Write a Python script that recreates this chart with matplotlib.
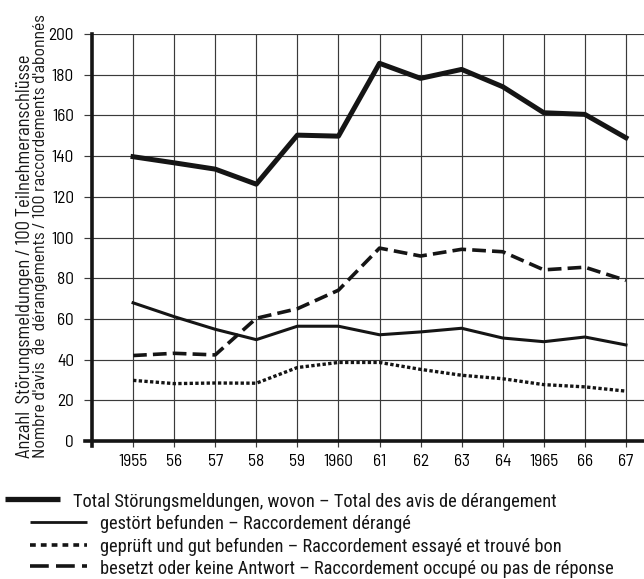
import matplotlib
matplotlib.use("Agg")
import matplotlib.pyplot as plt
from matplotlib.lines import Line2D

LEG_FONT = ["Roboto Condensed", "DejaVu Sans"]
AX_FONT = ["Barlow Semi Condensed", "Roboto Condensed", "DejaVu Sans"]
plt.rcParams['font.family'] = AX_FONT

years = [1955, 1956, 1957, 1958, 1959, 1960, 1961, 1962, 1963, 1964, 1965, 1966, 1967]
tick_labels = ["1955", "56", "57", "58", "59", "1960", "61", "62", "63", "64", "1965", "66", "67"]
total = [139.7, 136.7, 133.6, 126.2, 150.3, 149.8, 185.6, 178.2, 182.6, 174.1, 161.3, 160.5, 149.0]
gestoert = [67.9, 61.1, 54.9, 49.8, 56.4, 56.4, 52.2, 53.6, 55.4, 50.6, 48.8, 51.1, 47.2]
geprueft = [29.8, 28.2, 28.5, 28.4, 36.1, 38.6, 38.6, 35.2, 32.3, 30.6, 27.7, 26.6, 24.5]
besetzt = [42.0, 43.1, 42.3, 60.3, 65.0, 74.1, 94.8, 90.9, 94.2, 93.0, 84.1, 85.4, 78.9]

ylabel_de = "Anzahl  Störungsmeldungen / 100 Teilnehmeranschlüsse"
ylabel_fr = "Nombre d'avis  de  dérangements / 100 raccordements d'abonnés"
labels = [
    "Total Störungsmeldungen, wovon \u2013 Total des avis de dérangement",
    "gestört befunden \u2013 Raccordement dérangé",
    "geprüft und gut befunden \u2013 Raccordement essayé et trouvé bon",
    "besetzt oder keine Antwort \u2013 Raccordement occupé ou pas de réponse",
]

W, H = 644, 579
INK = "#151515"
GRID = "#3a3a3a"
fig = plt.figure(figsize=(W / 100, H / 100), dpi=100)
ax = fig.add_axes([92 / W, 1 - 441 / H, 1 - 92 / W, (441 - 34) / H])

dash_style = (0, (3.8, 1.7))
dot_style = (0, (1.0, 0.7))

ax.plot(years, total, color=INK, lw=3.6, zorder=5)
ax.plot(years, gestoert, color=INK, lw=2.2, zorder=5)
ax.plot(years, geprueft, color=INK, lw=2.4, linestyle=dot_style, zorder=5)
ax.plot(years, besetzt, color=INK, lw=2.6, linestyle=dash_style, zorder=5)

ax.set_xlim(1954, 1967.44)
ax.set_ylim(0, 200)
ax.set_xticks(years)
ax.set_xticklabels(tick_labels)
ax.set_yticks(range(0, 201, 20))
ax.grid(True, color=GRID, lw=0.85)
ax.set_axisbelow(True)
for s in ["top", "right"]:
    ax.spines[s].set_visible(False)
for s in ["left", "bottom"]:
    ax.spines[s].set_linewidth(2.6)
    ax.spines[s].set_color(INK)
    ax.spines[s].set_zorder(6)
ax.spines["bottom"].set_bounds(1953.84, 1967.44)
ax.spines["left"].set_bounds(-2.5, 200)
ax.tick_params(axis="y", length=6, width=0.85, color=GRID, labelsize=12.5, pad=7)
ax.tick_params(axis="x", length=4, width=0.85, color=GRID, labelsize=12.5, pad=5)

# y labels (two lines, starting at the same bottom point)
t1 = fig.text(25 / W, 1 - 458 / H, ylabel_de, rotation=90, ha="left", va="center",
              fontsize=11, rotation_mode="anchor", color=INK)
t2 = fig.text(41 / W, 1 - 458 / H, ylabel_fr, rotation=90, ha="left", va="center",
              fontsize=11, rotation_mode="anchor", color=INK)

# legend
rows = [
    (5, 60, 73, 499, 507, dict(lw=3.8, linestyle="-", solid_capstyle="butt")),
    (30, 87, 100, 522, 529, dict(lw=2.0, linestyle="-", solid_capstyle="butt")),
    (30, 87, 100, 545, 552, dict(lw=2.6, linestyle=(0, (1.6, 1.4)))),
    (30, 87, 100, 566, 574, dict(lw=2.6, linestyle=(0, (5.2, 2.0)))),
]
texts = []
for (x0, x1, xt, yl, yb, st), lab in zip(rows, labels):
    fig.add_artist(Line2D([x0 / W, x1 / W], [1 - yl / H, 1 - yl / H], color=INK,
                          transform=fig.transFigure, **st))
    texts.append(fig.text(xt / W, 1 - yb / H, lab, ha="left", va="baseline",
                          fontsize=13, family=LEG_FONT, color=INK))

# size text to the reference extents
fig.canvas.draw()
r = fig.canvas.get_renderer()
w4 = texts[3].get_window_extent(r).width
leg_size = 13 * (610 - 100) / w4
for t in texts:
    t.set_fontsize(leg_size)
h1 = t1.get_window_extent(r).height
h2 = t2.get_window_extent(r).height
t1.set_fontsize(11 * 405 / h1)
t2.set_fontsize(11 * 445 / h2)

fig.savefig("out.png", dpi=100)
